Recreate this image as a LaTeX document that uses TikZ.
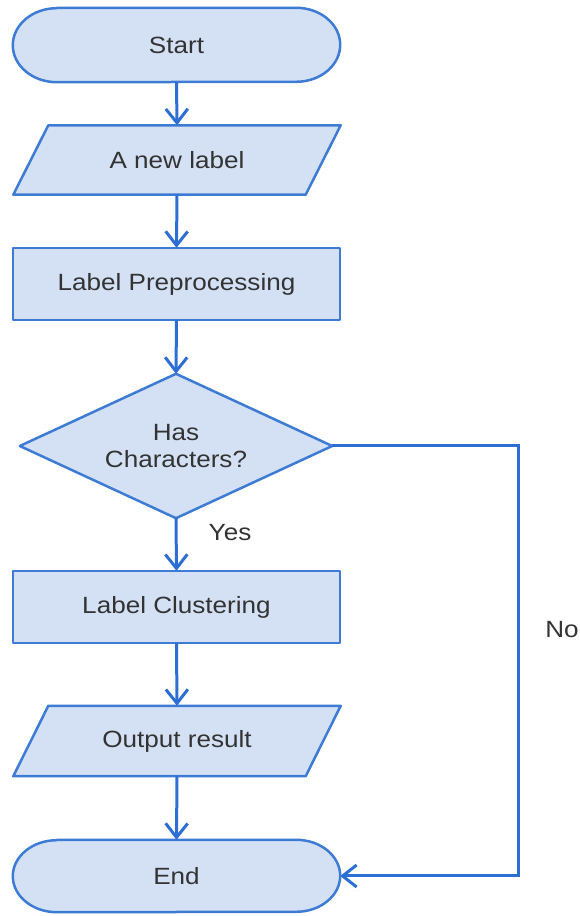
\documentclass[tikz,border=0pt]{standalone}
\usepackage{fontspec}
\setmainfont{Liberation Sans}[FakeStretch=1.11]
\usetikzlibrary{arrows.meta,calc}

\definecolor{boxfill}{HTML}{D4E1F5}
\definecolor{boxline}{HTML}{3E7BD5}
\definecolor{flowline}{HTML}{2C6ED4}
\definecolor{txt}{HTML}{333333}

\tikzset{
  x=1pt, y=1pt,
  every node/.style={font=\fontsize{23.5}{27}\selectfont, text=txt},
  frame/.style={inner sep=0pt, minimum width=327pt},
  shapeline/.style={draw=boxline, fill=boxfill, line width=2.5pt, line join=round},
  flow/.style={draw=flowline, line width=3pt,
    -{Straight Barb[length=14pt,width=22pt,line width=3pt]}},
  lbl/.style={font=\fontsize{23.5}{27}\selectfont}
}

\newcommand{\terminator}[1]{%
  \path[shapeline]
    ([xshift=44pt]#1.north west) -- ([xshift=-44pt]#1.north east)
    arc[start angle=90, end angle=-90, x radius=44pt, y radius=0.5*\termh]
    -- ([xshift=44pt]#1.south west)
    arc[start angle=270, end angle=90, x radius=44pt, y radius=0.5*\termh]
    -- cycle;}
\newcommand{\slanted}[1]{%
  \path[shapeline]
    ([xshift=35pt]#1.north west) -- (#1.north east)
    -- ([xshift=-35pt]#1.south east) -- (#1.south west) -- cycle;}

\begin{document}
\begin{tikzpicture}
\useasboundingbox (0,0) rectangle (580,916);

% node frames (text only; outlines are drawn below)
\node[frame, minimum height=74pt] (start) at (176.5,871) {};
\node[frame, minimum height=69pt] (input) at (177,756) {};
\node[frame, minimum height=72pt] (prep) at (176.5,632) {};
\node[inner sep=0pt, minimum width=312pt, minimum height=144pt] (dec) at (176,470) {};
\node[frame, minimum height=72pt] (clus) at (176.5,309) {};
\node[frame, minimum height=70pt] (outp) at (177,175) {};
\node[frame, minimum height=72pt] (stop) at (176.5,40) {};

% outlines
\def\termh{74pt}\terminator{start}
\def\termh{72pt}\terminator{stop}
\slanted{input}
\slanted{outp}
\path[shapeline] (prep.south west) rectangle (prep.north east);
\path[shapeline] (clus.south west) rectangle (clus.north east);
\path[shapeline] (dec.north) -- (dec.east) -- (dec.south) -- (dec.west) -- cycle;

% texts
\node at (start) {Start};
\node at (input) {A new label};
\node at (prep) {Label Preprocessing};
\node[align=center] at (dec) {Has\\Characters?};
\node at (clus) {Label Clustering};
\node at (outp) {Output result};
\node at (stop) {End};

% connectors
\coordinate (turn) at (518,470);
\coordinate (back) at (518,40);
\draw[flow] (start.south) -- (input.north);
\draw[flow] (input.south) -- (prep.north);
\draw[flow] (prep.south) -- (dec.north);
\draw[flow] (dec.south) -- (clus.north);
\draw[flow] (clus.south) -- (outp.north);
\draw[flow] (outp.south) -- (stop.north);
\draw[flow] (dec.east) -- (turn) -- (back) -- (stop.east);

% branch labels
\node[lbl] (yes) at (230,383) {Yes};
\node[lbl] (no) at (562,286) {No};
\end{tikzpicture}
\end{document}
